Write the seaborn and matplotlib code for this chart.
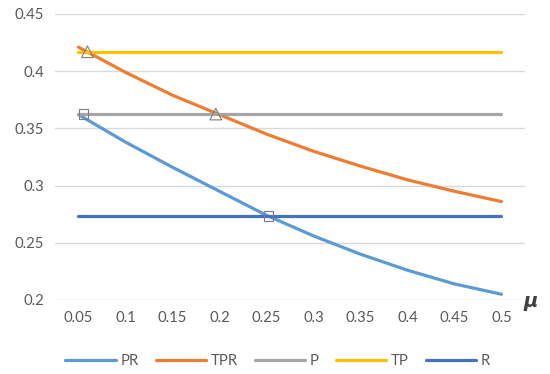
import matplotlib
matplotlib.use("Agg")
import matplotlib.pyplot as plt
import seaborn as sns
import numpy as np
import pandas as pd

mu = [0.05, 0.1, 0.15, 0.2, 0.25, 0.3, 0.35, 0.4, 0.45, 0.5]
mu_labels = ["0.05", "0.1", "0.15", "0.2", "0.25", "0.3", "0.35", "0.4", "0.45", "0.5"]
PR = [0.362, 0.338, 0.316, 0.295, 0.274, 0.256, 0.240, 0.226, 0.214, 0.205]
TPR = [0.421, 0.399, 0.379, 0.362, 0.345, 0.330, 0.317, 0.305, 0.295, 0.286]
P = [0.3625] * 10
TP = [0.417] * 10
R = [0.2735] * 10

tri_mu = [0.0595, 0.196]
tri_y = [0.417, 0.3625]
sq_mu = [0.055, 0.252]
sq_y = [0.3625, 0.2735]

series = {"PR": PR, "TPR": TPR, "P": P, "TP": TP, "R": R}
colors = {"PR": "#5B9BD5", "TPR": "#ED7D31", "P": "#A5A5A5", "TP": "#FFC000", "R": "#4472C4"}

sns.set_style("white")
plt.rcParams["font.family"] = ["Lato", "DejaVu Sans"]

fig = plt.figure(figsize=(5.5, 3.74), dpi=100)
ax = fig.add_axes([0.1, 0.198, 0.8545, 0.7646])

idx = np.arange(len(mu))
rows = []
for name, vals in series.items():
    for i, v in zip(idx, vals):
        rows.append({"i": i, "v": v, "s": name})
df = pd.DataFrame(rows)
sns.lineplot(data=df, x="i", y="v", hue="s", palette=colors, linewidth=2.3,
             ax=ax, legend=False, sort=False)
for line in ax.get_lines():
    line.set_solid_capstyle("round")

def to_idx(m):
    return (np.array(m) - mu[0]) / (mu[1] - mu[0])

ax.scatter(to_idx(tri_mu), tri_y, marker="^", s=70, facecolors="none",
           edgecolors="#7F7F7F", linewidths=0.8, zorder=5)
ax.scatter(to_idx(sq_mu), sq_y, marker="s", s=45, facecolors="none",
           edgecolors="#7F7F7F", linewidths=0.8, zorder=5)

ax.set_xlim(-0.5, 9.5)
ax.set_ylim(0.2, 0.45)
ax.set_yticks([0.2, 0.25, 0.3, 0.35, 0.4, 0.45])
ax.set_yticklabels(["0.2", "0.25", "0.3", "0.35", "0.4", "0.45"])
ax.set_xticks(idx)
ax.set_xticklabels(mu_labels)
ax.tick_params(axis="both", length=0, labelsize=10.7, colors="#595959", pad=8)
ax.grid(axis="y", color="#D9D9D9", linewidth=1)
ax.set_axisbelow(True)
for sp in ax.spines.values():
    sp.set_visible(False)
ax.set_xlabel("")
ax.set_ylabel("")

fig.text(0.965, 0.195, "μ", fontsize=14, fontweight="bold", fontstyle="italic",
         color="#404040", ha="center", va="center", family=["DejaVu Sans"])

from matplotlib.lines import Line2D
handles = [Line2D([0], [0], color=colors[n], linewidth=2.3) for n in series]
fig.legend(handles, list(series.keys()), loc="center", bbox_to_anchor=(0.505, 0.035),
           ncol=5, frameon=False, fontsize=10.7, handlelength=3.4, columnspacing=1.15,
           labelcolor="#595959", handletextpad=0.3)

fig.savefig("out.png", dpi=100)
